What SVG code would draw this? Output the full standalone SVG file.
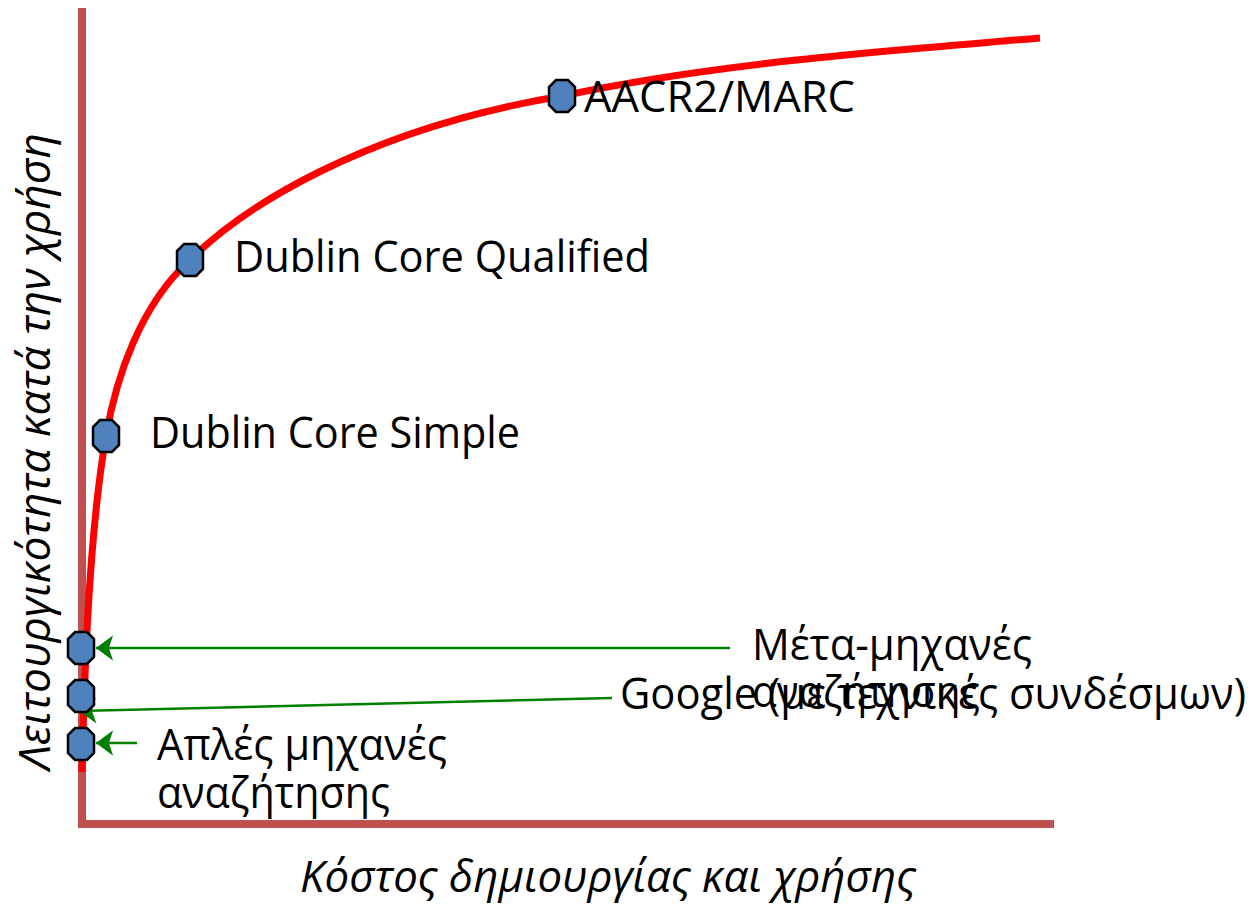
<svg xmlns="http://www.w3.org/2000/svg" width="1256" height="904" viewBox="0 0 1256 904">
<style>
.lbl{font-family:"Open Sans","Noto Sans","DejaVu Sans",sans-serif;font-size:44px;fill:#000}
.it{font-style:italic}
.axis{fill:#C0504D}
.oct{fill:#4F81BD;stroke:#000;stroke-width:2.5}
.arr{stroke:#008000;stroke-width:2.5;fill:none;marker-end:url(#ah)}
</style>
<defs>
<marker id="ah" markerUnits="userSpaceOnUse" markerWidth="20" markerHeight="30" viewBox="0 -14 18 28" refX="17" refY="0" orient="auto">
<path d="M17,0 L1,-12 L5,0 L1,12 Z" fill="#008000"/>
</marker>
<path id="octa" d="M-6,-16 L6,-16 L13,-9 L13,9 L6,16 L-6,16 L-13,9 L-13,-9 Z"/>
</defs>
<rect width="1256" height="904" fill="#fff"/>
<g id="axes">
<rect class="axis" x="78" y="8" width="8" height="818"/>
<rect class="axis" x="78" y="820" width="976" height="8"/>
</g>
<g id="curve">
<path d="M82,772 C84,690 88,540 106,436 C116,378 140,305 190,260 C240,210 360,130 562,96 C720,62 900,50 1040,38" fill="none" stroke="#FF0000" stroke-width="7"/>
</g>
<g id="connectors">
<line class="arr" x1="730" y1="648" x2="96" y2="648"/>
<line class="arr" x1="612" y1="698" x2="79" y2="711"/>
<line class="arr" x1="137" y1="743" x2="96" y2="743"/>
</g>
<g id="node-aacr2">
<use href="#octa" class="oct" transform="translate(562,96)"/>
<text class="lbl" x="584" y="112" textLength="271" lengthAdjust="spacingAndGlyphs">AACR2/MARC</text>
</g>
<g id="node-dcq">
<use href="#octa" class="oct" transform="translate(190,260)"/>
<text class="lbl" x="234" y="272" textLength="416" lengthAdjust="spacingAndGlyphs">Dublin Core Qualified</text>
</g>
<g id="node-dcs">
<use href="#octa" class="oct" transform="translate(106,436)"/>
<text class="lbl" x="150" y="448" textLength="370" lengthAdjust="spacingAndGlyphs">Dublin Core Simple</text>
</g>
<g id="node-meta">
<use href="#octa" class="oct" transform="translate(81,648)"/>
<text class="lbl" x="752" y="660" textLength="280" lengthAdjust="spacingAndGlyphs">Μέτα-μηχανές</text>
<text class="lbl" x="752" y="707" textLength="228" lengthAdjust="spacingAndGlyphs">αναζήτησης</text>
</g>
<g id="node-google">
<use href="#octa" class="oct" transform="translate(81,696)"/>
<text class="lbl" x="620" y="709" textLength="626" lengthAdjust="spacingAndGlyphs">Google (με τεχνικές συνδέσμων)</text>
</g>
<g id="node-simple">
<use href="#octa" class="oct" transform="translate(81,744)"/>
<text class="lbl" x="157" y="760" textLength="290" lengthAdjust="spacingAndGlyphs">Απλές μηχανές</text>
<text class="lbl" x="157" y="808" textLength="233" lengthAdjust="spacingAndGlyphs">αναζήτησης</text>
</g>
<g id="axis-labels">
<text class="lbl it" x="300" y="892" textLength="616" lengthAdjust="spacingAndGlyphs">Κόστος δημιουργίας και χρήσης</text>
<text class="lbl it" transform="translate(50,770) rotate(-90)" x="0" y="0" textLength="637" lengthAdjust="spacingAndGlyphs">Λειτουργικότητα κατά την χρήση</text>
</g>
</svg>
